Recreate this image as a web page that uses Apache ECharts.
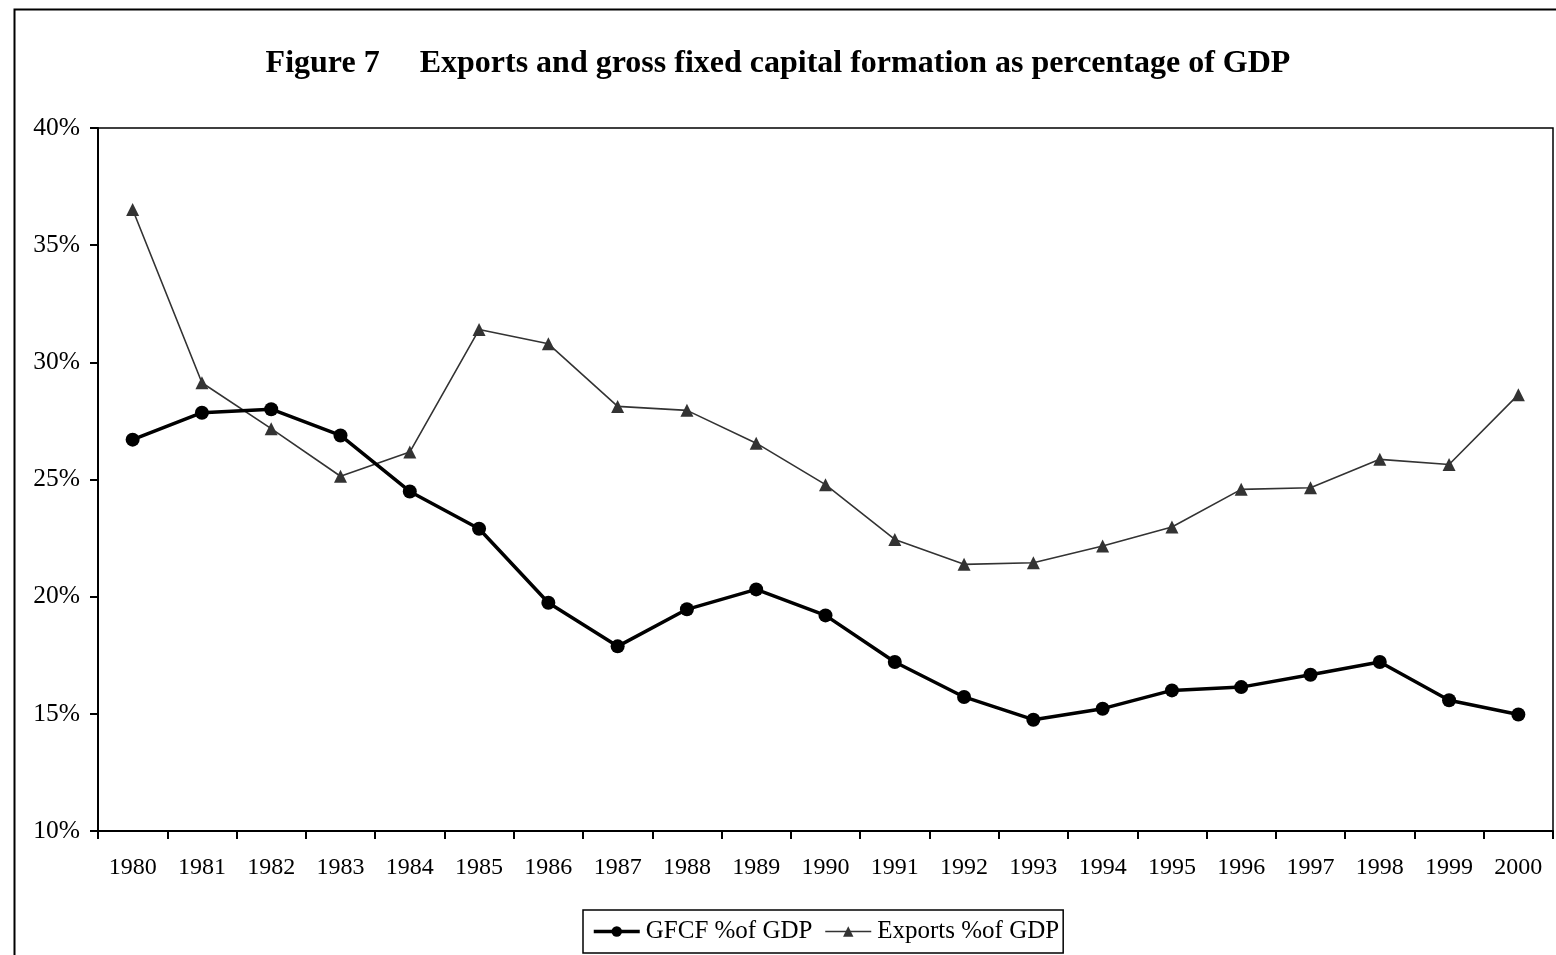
<!DOCTYPE html>
<html>
<head>
<meta charset="utf-8">
<script src="https://cdn.jsdelivr.net/npm/echarts@6/dist/echarts.min.js"></script>
<style>
  html, body { margin: 0; padding: 0; background: #fff; }
  #chart { width: 1556px; height: 955px; }
</style>
</head>
<body>
<div id="chart"></div>
<script>
// years on the category axis
const years = ['1980', '1981', '1982', '1983', '1984', '1985', '1986', '1987', '1988', '1989', '1990',
  '1991', '1992', '1993', '1994', '1995', '1996', '1997', '1998', '1999', '2000']

// gross fixed capital formation, % of GDP
const gfcf = [26.7, 27.85, 28.0, 26.88, 24.49, 22.9, 19.74, 17.88, 19.46, 20.31, 19.2,
  17.21, 15.72, 14.75, 15.22, 16.0, 16.14, 16.67, 17.21, 15.58, 14.97]

// exports, % of GDP
const exportsPct = [36.52, 29.13, 27.17, 25.14, 26.17, 31.4, 30.79, 28.12, 27.95, 26.55, 24.78,
  22.44, 21.38, 21.45, 22.16, 22.97, 24.58, 24.65, 25.86, 25.64, 28.62]

const serif = 'Liberation Serif'

const chart = echarts.init(document.getElementById('chart'))
chart.setOption({
  animation: false,
  backgroundColor: '#fff',
  textStyle: { fontFamily: serif, color: '#000' },
  title: {
    text: 'Figure 7     Exports and gross fixed capital formation as percentage of GDP',
    left: 'center',
    top: 43,
    textStyle: { fontFamily: serif, fontSize: 32, fontWeight: 'bold', color: '#000' }
  },
  graphic: [{
    type: 'rect',
    left: 12, top: 7,
    shape: { width: 1600, height: 1000 },
    style: { fill: 'none', stroke: '#000', lineWidth: 2 },
    silent: true
  }],
  legend: {
    left: 583,
    top: 910,
    data: [
      { name: 'GFCF %of GDP', lineStyle: { width: 3.5, color: '#000' }, itemStyle: { color: '#000' } },
      { name: 'Exports %of GDP', lineStyle: { width: 1.6, color: '#333' }, itemStyle: { color: '#333' } }
    ],
    itemWidth: 46,
    itemHeight: 13,
    itemGap: 12,
    padding: [9, 4, 9, 9],
    borderColor: '#000',
    borderWidth: 1.5,
    textStyle: { fontFamily: serif, fontSize: 25, color: '#000', padding: [0, 0, 0, 1] }
  },
  grid: {
    left: 98, right: 3, top: 128, bottom: 124,
    show: true,
    borderColor: '#000',
    borderWidth: 1.5
  },
  xAxis: {
    type: 'category',
    data: years,
    boundaryGap: true,
    axisLine: { lineStyle: { color: '#000', width: 2 } },
    axisTick: { show: true, length: 8, lineStyle: { color: '#000', width: 2 } },
    axisLabel: { color: '#000', fontFamily: serif, fontSize: 24, margin: 25, interval: 0 },
    splitLine: { show: false }
  },
  yAxis: {
    type: 'value',
    min: 10, max: 40, interval: 5,
    axisLine: { show: true, lineStyle: { color: '#000', width: 2 } },
    axisTick: { show: true, length: 8, lineStyle: { color: '#000', width: 2 } },
    axisLabel: { color: '#000', fontFamily: serif, fontSize: 25.5, margin: 18, formatter: '{value}%' },
    splitLine: { show: false }
  },
  series: [
    {
      name: 'GFCF %of GDP',
      type: 'line',
      data: gfcf,
      symbol: 'circle',
      symbolSize: 14,
      lineStyle: { color: '#000', width: 3.5 },
      itemStyle: { color: '#000' },
      z: 3
    },
    {
      name: 'Exports %of GDP',
      type: 'line',
      data: exportsPct,
      symbol: 'triangle',
      symbolSize: 13,
      lineStyle: { color: '#333', width: 1.6 },
      itemStyle: { color: '#333' },
      z: 2
    }
  ]
})
</script>
</body>
</html>
